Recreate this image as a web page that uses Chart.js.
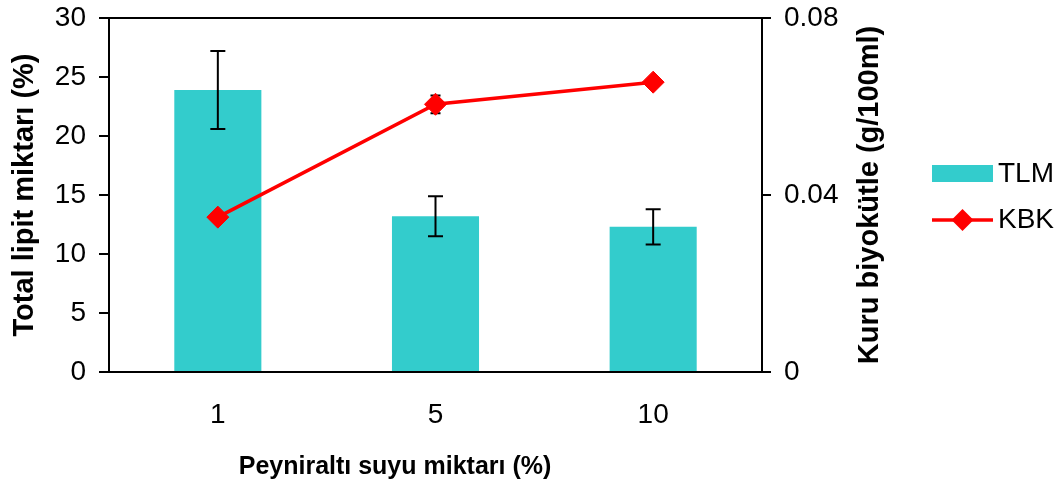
<!DOCTYPE html>
<html lang="tr">
<head>
<meta charset="UTF-8">
<title>Total lipit miktarı ve kuru biyokütle</title>
<script src="https://cdn.jsdelivr.net/npm/chart.js"></script>
<style>
    body { margin: 0; background: #fff; }
    #wrap { width: 1063px; height: 486px; }
</style>
</head>
<body>
<div id="wrap"><canvas id="chart" width="1063" height="486"></canvas></div>
<script>
// data
const categories = ['1', '5', '10'];
const tlmValues = [23.9, 13.2, 12.3];
const tlmErrors = [3.3, 1.7, 1.5];
const kbkValues = [0.035, 0.0605, 0.0655];
const kbkErrors = [0.0008, 0.002, 0];
const leftTicks = [0, 5, 10, 15, 20, 25, 30];
const rightTicks = [0, 0.04, 0.08];
const rightTickLabels = ['0', '0.04', '0.08'];

const FONT = 'Arial, "Liberation Sans", sans-serif';
const CYAN = '#33CCCC';
const RED = '#FF0000';

function drawErrors(chart, dsIndex, axisId, values, errors, half) {
    const ctx = chart.ctx;
    const meta = chart.getDatasetMeta(dsIndex);
    const scale = chart.scales[axisId];
    ctx.save();
    ctx.strokeStyle = '#000';
    ctx.lineWidth = 2;
    meta.data.forEach((el, i) => {
        if (!errors[i]) return;
        const x = el.x;
        const yt = scale.getPixelForValue(values[i] + errors[i]);
        const yb = scale.getPixelForValue(values[i] - errors[i]);
        ctx.beginPath();
        ctx.moveTo(x, yt); ctx.lineTo(x, yb);
        ctx.moveTo(x - half, yt); ctx.lineTo(x + half, yt);
        ctx.moveTo(x - half, yb); ctx.lineTo(x + half, yb);
        ctx.stroke();
    });
    ctx.restore();
}

// error bars: TLM over the bars, KBK under the diamonds
const errorBars = {
    id: 'errorBars',
    afterDatasetDraw(chart, args) {
        if (args.index === 0) drawErrors(chart, 0, 'y', tlmValues, tlmErrors, 7.5);
    },
    beforeDatasetDraw(chart, args) {
        if (args.index === 1) drawErrors(chart, 1, 'y1', kbkValues, kbkErrors, 5);
    }
};

// top frame line, titles that chart.js can't place like the original, legend
const extras = {
    id: 'extras',
    afterDraw(chart) {
        const ctx = chart.ctx;
        const a = chart.chartArea;
        ctx.save();
        ctx.strokeStyle = '#000';
        ctx.lineWidth = 2;
        ctx.beginPath();
        ctx.moveTo(a.left, a.top);
        ctx.lineTo(a.right, a.top);
        ctx.stroke();

        ctx.fillStyle = '#000';
        ctx.textAlign = 'center';
        ctx.textBaseline = 'middle';
        ctx.font = 'bold 25px ' + FONT;
        ctx.fillText('Peyniraltı suyu miktarı (%)', 395, 467);

        ctx.font = 'bold 29px ' + FONT;
        ctx.translate(870, (a.top + a.bottom) / 2);
        ctx.rotate(-Math.PI / 2);
        ctx.fillText('Kuru biyokütle (g/100ml)', 0, 0);
        ctx.restore();

        // legend
        const lx = 932, lw = 61, tx = 998;
        ctx.save();
        ctx.fillStyle = CYAN;
        ctx.fillRect(lx, 165, lw, 17);
        ctx.strokeStyle = RED;
        ctx.lineWidth = 3.5;
        ctx.beginPath();
        ctx.moveTo(lx, 220);
        ctx.lineTo(lx + lw, 220);
        ctx.stroke();
        ctx.fillStyle = RED;
        ctx.beginPath();
        const cx = lx + lw / 2, r = 11;
        ctx.moveTo(cx - r, 220); ctx.lineTo(cx, 220 - r);
        ctx.lineTo(cx + r, 220); ctx.lineTo(cx, 220 + r);
        ctx.closePath();
        ctx.fill();
        ctx.fillStyle = '#000';
        ctx.font = '28px ' + FONT;
        ctx.textAlign = 'left';
        ctx.textBaseline = 'middle';
        ctx.fillText('TLM', tx, 174);
        ctx.fillText('KBK', tx, 220);
        ctx.restore();
    }
};

const ctx = document.getElementById('chart').getContext('2d');
new Chart(ctx, {
    type: 'bar',
    data: {
        labels: categories,
        datasets: [{
            label: 'TLM',
            data: tlmValues,
            backgroundColor: CYAN,
            barPercentage: 0.4,
            categoryPercentage: 1,
            yAxisID: 'y',
            order: 1
        }, {
            type: 'line',
            label: 'KBK',
            data: kbkValues,
            borderColor: RED,
            borderWidth: 3.5,
            pointStyle: 'rectRot',
            pointRadius: 11,
            pointBackgroundColor: RED,
            pointBorderColor: RED,
            pointBorderWidth: 1,
            yAxisID: 'y1',
            order: 0
        }]
    },
    options: {
        responsive: false,
        animation: false,
        layout: { padding: { top: 18, left: 0, right: 190, bottom: 0 } },
        plugins: {
            legend: { display: false },
            tooltip: { enabled: false }
        },
        scales: {
            x: {
                ticks: { color: '#000', font: { family: FONT, size: 28 }, padding: 26 },
                grid: { drawOnChartArea: false, drawTicks: false },
                border: { color: '#000', width: 2 },
                afterFit(s) { s.height = 114; s.paddingLeft = 0; s.paddingRight = 0; }
            },
            y: {
                position: 'left',
                min: 0,
                max: 30,
                afterBuildTicks(s) { s.ticks = leftTicks.map(v => ({ value: v })); },
                ticks: { color: '#000', font: { family: FONT, size: 28 }, padding: 13 },
                grid: { drawOnChartArea: false, color: '#000', lineWidth: 2, tickLength: 10 },
                border: { color: '#000', width: 2 },
                title: {
                    display: true,
                    text: 'Total lipit miktarı (%)',
                    color: '#000',
                    font: { family: FONT, size: 29, weight: 'bold' },
                    padding: { top: 8, bottom: 0 }
                },
                afterFit(s) { s.width = 109; s.paddingTop = 0; s.paddingBottom = 0; }
            },
            y1: {
                position: 'right',
                min: 0,
                max: 0.08,
                afterBuildTicks(s) { s.ticks = rightTicks.map(v => ({ value: v })); },
                ticks: {
                    color: '#000',
                    font: { family: FONT, size: 28 },
                    padding: 13,
                    callback: (v) => rightTickLabels[rightTicks.indexOf(v)]
                },
                grid: { drawOnChartArea: false, color: '#000', lineWidth: 2, tickLength: 9 },
                border: { color: '#000', width: 2 },
                afterFit(s) { s.width = 111; s.paddingTop = 0; s.paddingBottom = 0; }
            }
        }
    },
    plugins: [errorBars, extras]
});
</script>
</body>
</html>
